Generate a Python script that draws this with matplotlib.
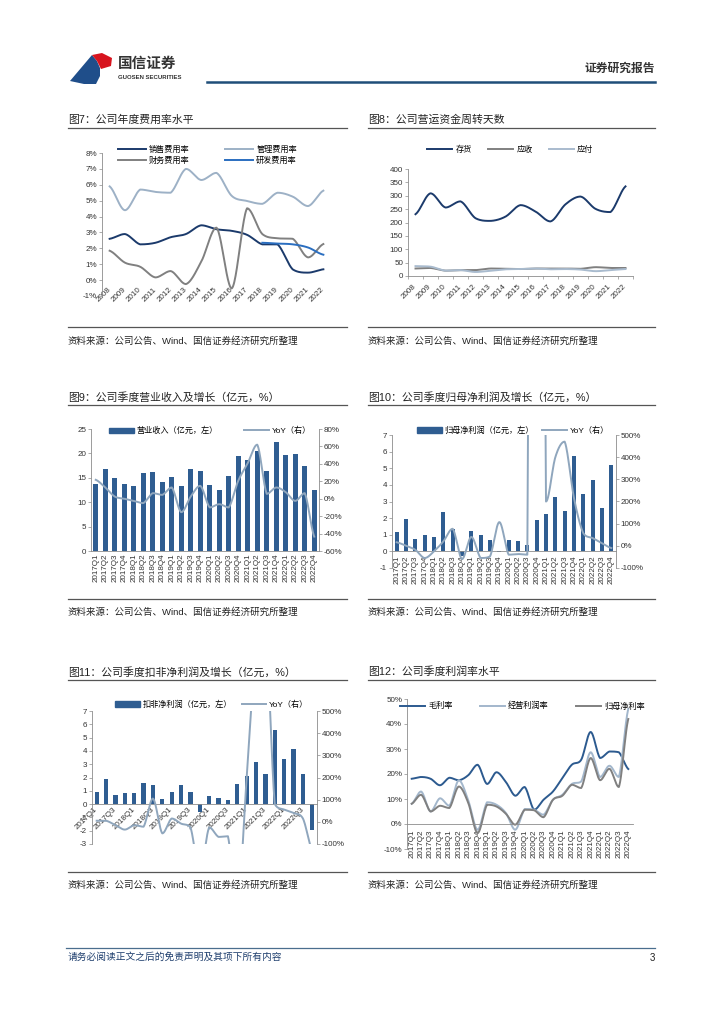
import numpy as np
import matplotlib
matplotlib.use('Agg')
import matplotlib.pyplot as plt
from matplotlib.patches import Polygon, Patch
from matplotlib.lines import Line2D

plt.rcParams['font.family'] = ['Liberation Sans', 'Noto Sans CJK SC', 'DejaVu Sans']
plt.rcParams['axes.unicode_minus'] = False

# ---------------- data ----------------
years = ['2008', '2009', '2010', '2011', '2012', '2013', '2014', '2015',
         '2016', '2017', '2018', '2019', '2020', '2021', '2022']
sales_rate = [2.6, 2.9, 2.25, 2.35, 2.7, 2.9, 3.45, 3.2, 3.1, 2.85, 2.25, 2.25, 0.67, 0.47, 0.68]
admin_rate = [5.9, 4.4, 5.7, 5.55, 5.5, 7.0, 6.3, 6.75, 5.3, 4.98, 4.8, 5.5, 5.25, 4.66, 5.63]
fin_rate = [1.85, 1.1, 0.84, 0.17, 0.57, -0.25, 1.16, 3.3, -0.52, 4.52, 2.9, 2.63, 2.6, 1.43, 2.27]
rd_rate = [None] * 10 + [2.35, 2.3, 2.25, 2.05, 1.6]

inventory_days = [231, 309, 256, 279, 216, 206, 222, 265, 241, 204, 268, 297, 251, 239, 335]
receivable_days = [28, 30, 20, 22, 22, 28, 27, 26, 28, 28, 28, 27, 33, 30, 30]
payable_days = [37, 35, 20, 22, 15, 20, 25, 26, 28, 25, 26, 24, 18, 22, 26]

quarters = ['2017Q1', '2017Q2', '2017Q3', '2017Q4', '2018Q1', '2018Q2', '2018Q3', '2018Q4',
            '2019Q1', '2019Q2', '2019Q3', '2019Q4', '2020Q1', '2020Q2', '2020Q3', '2020Q4',
            '2021Q1', '2021Q2', '2021Q3', '2021Q4', '2022Q1', '2022Q2', '2022Q3', '2022Q4']
revenue = [13.7, 16.8, 14.9, 13.8, 13.4, 15.9, 16.1, 14.2, 15.1, 13.4, 16.8, 16.4,
           13.6, 12.5, 15.4, 19.4, 18.6, 20.4, 16.3, 22.3, 19.7, 19.8, 17.5, 12.5]
revenue_yoy = [21.7, 12.9, 2.5, 0.0, -2.5, -5.0, 6.4, 4.4, 12.9, -15.5, 2.5, 14.8,
               -10.0, -6.3, -10.0, 20.6, 40.9, 62.0, 5.6, 12.9, 7.5, -2.5, 6.4, -43.5]

np_parent = [1.14, 1.94, 0.76, 1.0, 0.84, 2.36, 1.36, -0.3, 1.22, 1.0, 0.7, -0.05,
             0.7, 0.63, 0.4, 1.86, 2.22, 3.26, 2.42, 5.76, 3.44, 4.3, 2.6, 5.22]
np_parent_yoy = [16, 0, -18, -55, -25, 20, 77, -60, 40, -55, -48, 107,
                 -40, -37, -40, 12000, 200, 400, 470, 215, 57, 35, 12, -10]

np_deducted = [0.93, 1.85, 0.68, 0.8, 0.8, 1.6, 1.4, 0.4, 0.9, 1.43, 0.93, -0.58,
               0.63, 0.45, 0.32, 1.5, 2.1, 3.13, 2.25, 5.6, 3.38, 4.18, 2.3, -1.95]
np_deducted_yoy = [5, 5, -15, -35, -15, -22, 105, -52, 15, -8, -25, -225,
                   -25, -68, -65, -400, 200, 800, 900, 80, 55, 40, 15, -130]

gross_margin = [18.1, 18.8, 18.1, 15.5, 18.5, 17.5, 19.5, 23.7, 16.0, 20.7, 16.8, 11.3,
                14.8, 5.7, 9.7, 13.0, 18.4, 23.7, 25.7, 36.8, 26.4, 29.0, 28.7, 22.0]
op_margin = [8.1, 13.0, 5.0, 10.3, 7.3, 17.5, 9.5, -2.3, 8.7, 7.7, 4.4, -2.3,
             6.0, 5.7, 3.7, 9.7, 11.7, 16.0, 17.0, 28.7, 18.8, 23.3, 18.8, 46.0]
net_margin = [8.1, 11.7, 5.0, 7.3, 6.4, 15.0, 8.5, -3.6, 7.7, 7.0, 4.1, -0.3,
              5.7, 5.5, 2.7, 9.7, 11.3, 15.7, 14.4, 26.4, 17.5, 22.1, 14.8, 42.0]

# ---------------- colours ----------------
NAVY = '#1B3A6B'
LIGHT = '#9DB1C6'
GRAY = '#808080'
BLUE = '#2A6EC0'
BAR = '#2F5D91'
YOY = '#8FA6BD'
SP = '#8C8C8C'
TXT = '#333333'
TICK_FS = 5.8

W, H = 724, 1024
fig = plt.figure(figsize=(7.24, 10.24), dpi=100)


def fx(x):
    return x / W


def fy(y):
    return 1 - y / H


def add_ax(l, t, r, b):
    return fig.add_axes([l / W, 1 - b / H, (r - l) / W, (b - t) / H])


def hline(x0, x1, y, color, lw):
    fig.add_artist(Line2D([fx(x0), fx(x1)], [fy(y), fy(y)], color=color, lw=lw,
                          transform=fig.transFigure))


def smooth(vals, n=24):
    y = np.array([np.nan if v is None else v for v in vals], float)
    idx = np.where(~np.isnan(y))[0]
    xv = idx.astype(float)
    yv = y[idx]
    m = len(yv)
    bx_all, by_all = [], []
    for i in range(m - 1):
        y0 = yv[i - 1] if i > 0 else yv[i]
        y1, y2 = yv[i], yv[i + 1]
        y3 = yv[i + 2] if i + 2 < m else yv[i + 1]
        c1 = y1 + (y2 - y0) / 6.0
        c2 = y2 - (y3 - y1) / 6.0
        lo, hi = min(y1, y2), max(y1, y2)
        c1 = np.clip(c1, lo, hi)
        c2 = np.clip(c2, lo, hi)
        t = np.linspace(0, 1, n, endpoint=(i == m - 2))
        bx_all.append(xv[i] + t * (xv[i + 1] - xv[i]))
        by_all.append((1 - t) ** 3 * y1 + 3 * (1 - t) ** 2 * t * c1
                      + 3 * (1 - t) * t ** 2 * c2 + t ** 3 * y2)
    return np.concatenate(bx_all), np.concatenate(by_all)


def style(ax, bottom_at_zero=False):
    for s in ['top', 'right']:
        ax.spines[s].set_visible(False)
    for s in ['left', 'bottom']:
        ax.spines[s].set_color(SP)
        ax.spines[s].set_linewidth(0.6)
    if bottom_at_zero:
        ax.spines['bottom'].set_position(('data', 0))
    ax.tick_params(axis='both', labelsize=TICK_FS, labelcolor=TXT, color=SP,
                   length=2, width=0.5, pad=1.5)
    ax.set_facecolor('none')


def style_right(ax2):
    for s in ['top', 'left', 'bottom']:
        ax2.spines[s].set_visible(False)
    ax2.spines['right'].set_color(SP)
    ax2.spines['right'].set_linewidth(0.6)
    ax2.tick_params(axis='y', labelsize=TICK_FS, labelcolor=TXT, color=SP,
                    length=2, width=0.5, pad=1.5)


def legend_at(ax, handles, labels, x_px, y_px, ncol, colsp, hl=3.2, ls=0.3):
    ax.legend(handles, labels, loc='upper left',
              bbox_to_anchor=(fx(x_px), fy(y_px)), bbox_transform=fig.transFigure,
              ncol=ncol, frameon=False, fontsize=5.9, handlelength=hl,
              handletextpad=0.35, columnspacing=colsp, borderpad=0,
              borderaxespad=0, labelspacing=ls)


# ---------------- header ----------------
fig.add_artist(Polygon([(fx(70), fy(81)), (fx(92), fy(55)), (fx(97), fy(61)), (fx(100), fy(68)),
                        (fx(100), fy(76)), (fx(96), fy(84)), (fx(84), fy(84))],
                       closed=True, transform=fig.transFigure, color='#1F4E8A', lw=0))
fig.add_artist(Polygon([(fx(92), fy(55)), (fx(102), fy(53)), (fx(112), fy(58)), (fx(111), fy(66)),
                        (fx(101), fy(69)), (fx(97), fy(61))],
                       closed=True, transform=fig.transFigure, color='#D7141E', lw=0))
fig.text(fx(118), fy(63), '国信证券', fontsize=10.5, fontweight='bold', color='#333333',
         va='center', ha='left', family=['Noto Sans CJK SC'])
fig.text(fx(118), fy(77.5), 'GUOSEN SECURITIES', fontsize=4.3, fontweight='bold',
         color='#333333', va='center', ha='left')
fig.text(fx(655), fy(68), '证券研究报告', fontsize=8.5, fontweight='bold', color='#333333',
         va='center', ha='right', family=['Noto Sans CJK SC'])
hline(207, 655, 82, '#1F4E79', 1.8)

# ---------------- titles & sources ----------------
rows = [(120, 128, 327, 341), (397, 405, 599, 612), (672, 680, 872, 885)]
titles = [('图7：公司年度费用率水平', '图8：公司营运资金周转天数'),
          ('图9：公司季度营业收入及增长（亿元，%）', '图10：公司季度归母净利润及增长（亿元，%）'),
          ('图11：公司季度扣非净利润及增长（亿元，%）', '图12：公司季度利润率水平')]
src = '资料来源：公司公告、Wind、国信证券经济研究所整理'
for (ty, ly, sly, sy), (tl, tr) in zip(rows, titles):
    for x0, x1, t in [(68, 347, tl), (368, 655, tr)]:
        fig.text(fx(x0), fy(ty), t, fontsize=7.8, color='#222222', va='center', ha='left')
        hline(x0, x1, ly, '#555555', 0.9)
        hline(x0, x1, sly, '#555555', 0.9)
        fig.text(fx(x0), fy(sy), src, fontsize=6.8, color='#222222', va='center', ha='left')

# ---------------- footer ----------------
hline(66, 655, 948, '#4A6E8E', 0.9)
fig.text(fx(68), fy(957), '请务必阅读正文之后的免责声明及其项下所有内容', fontsize=7.0,
         color='#1F3F6E', va='center', ha='left', style='italic')
fig.text(fx(655), fy(958), '3', fontsize=7, color='#222222', va='center', ha='right')

# ---------------- chart 7 ----------------
ax = add_ax(102, 153, 331, 296)
style(ax, bottom_at_zero=True)
ax.spines['bottom'].set_visible(False)
x = np.arange(len(years))
h1, = ax.plot(*smooth(sales_rate), color=NAVY, lw=1.4)
h2, = ax.plot(*smooth(admin_rate), color=LIGHT, lw=1.4)
h3, = ax.plot(*smooth(fin_rate), color=GRAY, lw=1.4)
h4, = ax.plot(*smooth(rd_rate), color=BLUE, lw=1.4)
ax.set_xlim(-0.5, len(years) - 0.5)
ax.set_ylim(-1, 8)
ax.set_yticks(range(-1, 9))
ax.set_yticklabels([f'{v}%' for v in range(-1, 9)])
ax.set_xticks(x)
ax.set_xticklabels(years, rotation=45, ha='right', va='center', rotation_mode='anchor')
ax.tick_params(axis='x', length=0, pad=6)
legend_at(ax, [h1, h3, h2, h4], ['销售费用率', '财务费用率', '管理费用率', '研发费用率'],
          118, 146, 2, 4.4, hl=3.4, ls=0.35)

# ---------------- chart 8 ----------------
ax = add_ax(408, 169, 633, 276)
style(ax)
h1, = ax.plot(*smooth(inventory_days), color=NAVY, lw=1.4)
h2, = ax.plot(*smooth(receivable_days), color=GRAY, lw=1.4)
h3, = ax.plot(*smooth(payable_days), color='#A9BBCE', lw=1.4)
ax.set_xlim(-0.5, len(years) - 0.5)
ax.set_ylim(0, 400)
ax.set_yticks(range(0, 401, 50))
ax.set_xticks(np.arange(len(years)))
ax.set_xticklabels(years, rotation=45, ha='right', va='center', rotation_mode='anchor')
ax.set_xticks(np.arange(-0.5, len(years)), minor=True)
ax.tick_params(axis='x', which='major', length=0, pad=7)
ax.tick_params(axis='x', which='minor', length=2, width=0.5, color=SP)
legend_at(ax, [h1, h2, h3], ['存货', '应收', '应付'], 427, 146, 3, 2.0, hl=3.1)

# ---------------- chart 9 ----------------
q = np.arange(len(quarters))
ax = add_ax(91, 429, 319, 551)
style(ax)
ax.bar(q, revenue, width=0.5, color=BAR, zorder=2)
ax.set_xlim(-0.5, len(quarters) - 0.5)
ax.set_ylim(0, 25)
ax.set_yticks(range(0, 26, 5))
ax.set_xticks(q)
ax.set_xticklabels(quarters, rotation=90, ha='center', va='top')
ax.tick_params(axis='x', length=0, pad=2)
ax2 = ax.twinx()
style_right(ax2)
l, = ax2.plot(*smooth(revenue_yoy), color=YOY, lw=1.4)
ax2.set_ylim(-60, 80)
ax2.set_yticks(range(-60, 81, 20))
ax2.set_yticklabels([f'{v}%' for v in range(-60, 81, 20)])
legend_at(ax2, [Patch(color=BAR), l], ['营业收入（亿元，左）', 'YoY（右）'], 109, 427, 2, 3.2, hl=3.0)

# ---------------- chart 10 ----------------
ax = add_ax(392, 435, 616, 568)
style(ax, bottom_at_zero=True)
ax.bar(q, np_parent, width=0.45, color=BAR, zorder=2)
ax.set_xlim(-0.5, len(quarters) - 0.5)
ax.set_ylim(-1, 7)
ax.set_yticks(range(-1, 8))
ax.set_xticks(q)
ax.set_xticklabels(quarters, rotation=90, ha='center', va='top')
ax.tick_params(axis='x', length=0, pad=3)
ax2 = ax.twinx()
style_right(ax2)
l, = ax2.plot(*smooth(np_parent_yoy), color=YOY, lw=1.4)
ax2.set_ylim(-100, 500)
ax2.set_yticks(range(-100, 501, 100))
ax2.set_yticklabels([f'{v}%' for v in range(-100, 501, 100)])
legend_at(ax2, [Patch(color=BAR), l], ['归母净利润（亿元，左）', 'YoY（右）'], 417, 426, 2, 1.0, hl=3.0)

# ---------------- chart 11 ----------------
ax = add_ax(92, 711, 317, 844)
style(ax, bottom_at_zero=True)
ax.bar(q, np_deducted, width=0.45, color=BAR, zorder=2)
ax.set_xlim(-0.5, len(quarters) - 0.5)
ax.set_ylim(-3, 7)
ax.set_yticks(range(-3, 8))
ax.set_xticks(q[::2])
ax.set_xticklabels(quarters[::2], rotation=45, ha='right', va='center', rotation_mode='anchor')
ax.tick_params(axis='x', length=0, pad=3)
ax2 = ax.twinx()
style_right(ax2)
l, = ax2.plot(*smooth(np_deducted_yoy), color=YOY, lw=1.4)
ax2.set_ylim(-100, 500)
ax2.set_yticks(range(-100, 501, 100))
ax2.set_yticklabels([f'{v}%' for v in range(-100, 501, 100)])
legend_at(ax2, [Patch(color=BAR), l], ['扣非净利润（亿元，左）', 'YoY（右）'], 115, 700, 2, 1.2, hl=3.0)

# ---------------- chart 12 ----------------
ax = add_ax(407, 699, 633, 849)
style(ax, bottom_at_zero=True)
h1, = ax.plot(*smooth(gross_margin), color='#2C5A8F', lw=1.4)
h2, = ax.plot(*smooth(op_margin), color='#A3B7CC', lw=1.4)
h3, = ax.plot(*smooth(net_margin), color=GRAY, lw=1.4)
ax.set_xlim(-0.5, len(quarters) - 0.5)
ax.set_ylim(-10, 50)
ax.set_yticks(range(-10, 51, 10))
ax.set_yticklabels([f'{v}%' for v in range(-10, 51, 10)])
ax.set_xticks(q)
ax.set_xticklabels(quarters, rotation=90, ha='center', va='top')
ax.tick_params(axis='x', length=0, pad=4)
legend_at(ax, [h1, h2, h3], ['毛利率', '经营利润率', '归母净利率'], 400, 702, 3, 3.3, hl=3.1)

fig.savefig('out.png', dpi=100, facecolor='white')
